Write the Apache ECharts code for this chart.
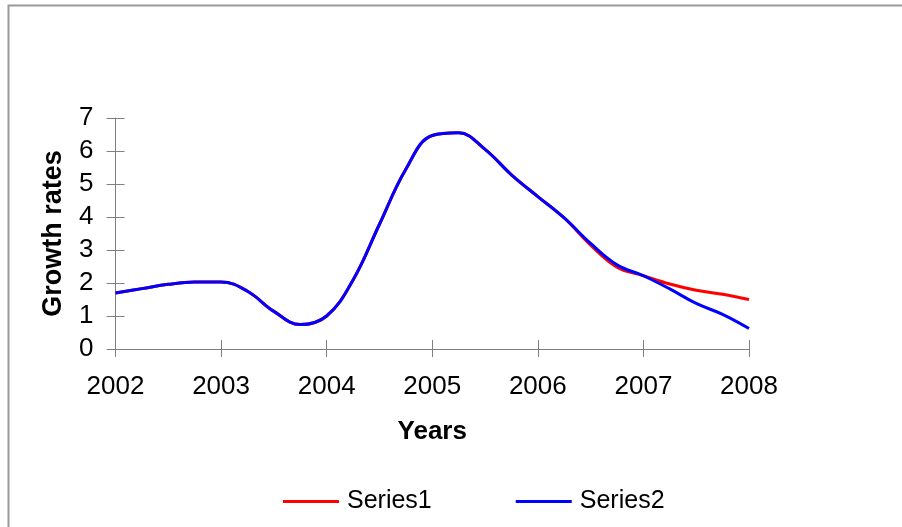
<!DOCTYPE html>
<html><head><meta charset="utf-8">
<script src="https://cdn.jsdelivr.net/npm/echarts@6/dist/echarts.min.js"></script>
<style>html,body{margin:0;padding:0;background:#fff;}#c{width:902px;height:527px;}</style>
</head><body><div id="c"></div>
<script>
const years = [2002,2002.25,2002.5,2002.75,2003,2003.25,2003.5,2003.75,2004,2004.25,2004.5,2004.75,2005,2005.25,2005.5,2005.75,2006,2006.25,2006.5,2006.75,2007,2007.25,2007.5,2007.75,2008];
const series1 = [1.70,1.83,1.96,2.03,2.03,1.75,1.14,0.74,1.00,2.09,3.78,5.45,6.47,6.55,6.05,5.28,4.62,3.97,3.15,2.48,2.22,1.97,1.78,1.66,1.50];
const series2 = [1.70,1.83,1.96,2.03,2.03,1.75,1.14,0.74,1.00,2.09,3.78,5.45,6.47,6.55,6.05,5.28,4.62,3.97,3.20,2.55,2.22,1.82,1.38,1.05,0.62];
const seriesNames = ['Series1','Series2'];
const xTitle = 'Years';
const yTitle = 'Growth rates';

const FONT = '"Liberation Sans", Arial, sans-serif';
const axisGray = '#808080';
const pair = (xs, ys) => xs.map((x,i)=>[x, ys[i]]);

const chart = echarts.init(document.getElementById('c'), null, {renderer:'canvas'});
chart.setOption({
  backgroundColor:'#fff',
  animation:false,
  textStyle:{fontFamily:FONT},
  graphic:[{type:'rect', shape:{x:8.5,y:5.5,width:1000,height:1000}, style:{fill:'none', stroke:'#9a9a9a', lineWidth:2}, silent:true}],
  grid:{left:115.5, right:153, top:118, bottom:178, containLabel:false},
  legend:{
    data:seriesNames, left:283, top:484, padding:[5,0,5,0], icon:'rect', itemWidth:56, itemHeight:3, itemGap:84,
    textStyle:{fontFamily:FONT, fontSize:25, color:'#000', padding:[0,0,0,3]}
  },
  xAxis:[{
    type:'value', min:2002, max:2008, interval:1,
    name:xTitle, nameLocation:'middle', nameGap:70,
    nameTextStyle:{fontFamily:FONT, fontSize:26, fontWeight:'bold', color:'#000'},
    axisLine:{show:true, onZero:false, lineStyle:{color:axisGray, width:1}},
    axisTick:{show:true, length:8, lineStyle:{color:axisGray}},
    axisLabel:{fontFamily:FONT, fontSize:26, color:'#000', margin:25, formatter:v=>String(v)},
    splitLine:{show:false}
  },{
    type:'value', min:2002, max:2008, interval:1, position:'bottom',
    axisLine:{show:false, onZero:false}, axisTick:{show:true, inside:true, length:9, lineStyle:{color:axisGray}},
    axisLabel:{show:false}, splitLine:{show:false}
  }],
  yAxis:[{
    type:'value', min:0, max:7, interval:1,
    name:yTitle, nameLocation:'middle', nameGap:48,
    nameTextStyle:{fontFamily:FONT, fontSize:27, fontWeight:'bold', color:'#000'},
    axisLine:{show:true, lineStyle:{color:axisGray, width:1}},
    axisTick:{show:true, length:9, lineStyle:{color:axisGray}},
    axisLabel:{fontFamily:FONT, fontSize:26, color:'#000', margin:22},
    splitLine:{show:false}
  },{
    type:'value', min:0, max:7, interval:1, position:'left',
    axisLine:{show:false}, axisTick:{show:true, inside:true, length:9, lineStyle:{color:axisGray}},
    axisLabel:{show:false}, splitLine:{show:false}
  }],
  series:[
    {name:seriesNames[0], type:'line', data:pair(years, series1), smooth:0.4, showSymbol:false, symbol:'none',
     itemStyle:{color:'#ff0000'}, lineStyle:{color:'#ff0000', width:3}},
    {name:seriesNames[1], type:'line', data:pair(years, series2), smooth:0.4, showSymbol:false, symbol:'none',
     itemStyle:{color:'#0000ff'}, lineStyle:{color:'#0000ff', width:3}}
  ]
});
</script></body></html>
